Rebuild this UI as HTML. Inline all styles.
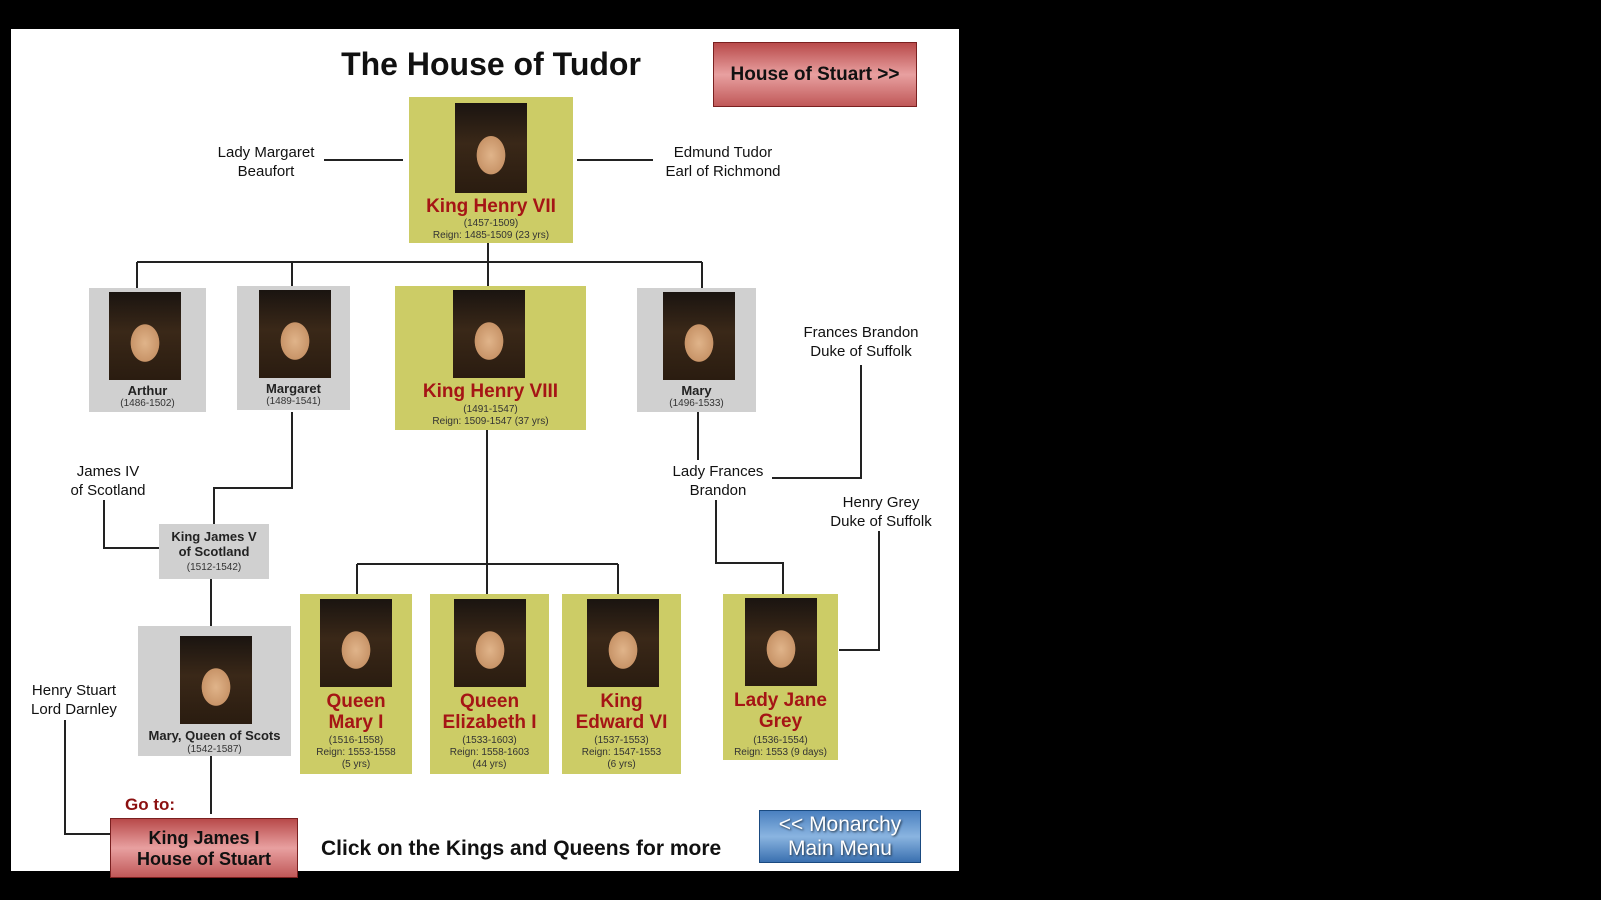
<!DOCTYPE html>
<html><head><meta charset="utf-8"><style>
body{margin:0;width:1601px;height:900px;background:#000;position:relative;overflow:hidden;font-family:"Liberation Sans",Arial,sans-serif}
.a{position:absolute}
.panel{left:11px;top:29px;width:948px;height:842px;background:#fff}
.box{position:absolute;text-align:center;color:#222}
.y{background:#cccc66}
.g{background:#d0d0d0}
.p{position:absolute;background:radial-gradient(ellipse 28% 30% at 50% 58%,#e0b48a 0%,#c89468 70%,transparent 72%),linear-gradient(#1a1410 0%,#3a2818 45%,#2a1c10 100%)}
.nm{position:absolute;left:0;right:0;color:#a51515;font-weight:bold;font-size:19px;line-height:21px}
.sm{position:absolute;left:0;right:0;font-size:10px;line-height:12px;color:#333}
.sb{font-weight:bold;font-size:13px;line-height:15px;color:#222}
.lbl{position:absolute;font-size:15px;line-height:19px;text-align:center;color:#111;transform:translateX(-50%);white-space:nowrap}
.btnr{position:absolute;background:linear-gradient(#b84a4a,#e8a0a0 50%,#c05858);border:1px solid #7a2020;text-align:center;font-weight:bold;color:#111}
</style></head><body>
<div class="a panel"></div>
<div class="a" style="left:0;width:982px;top:46px;text-align:center;font-size:32px;font-weight:bold;color:#111">The House of Tudor</div>
<div class="btnr" style="left:713px;top:42px;width:202px;height:63px;line-height:63px;font-size:19px">House of Stuart &gt;&gt;</div>

<svg class="a" style="left:0;top:0" width="1601" height="900">
<g stroke="#222" stroke-width="2" fill="none">
<path d="M324 160H403M577 160H653"/>
<path d="M488 243V280M137 262H702M137 262V288M292 262V286M488 262V286M702 262V288"/>
<path d="M861 365V478H772M698 412V460M716 500V563H783V594"/>
<path d="M879 531V650H839"/>
<path d="M487 430V594M357 564H618M357 564V594M618 564V594"/>
<path d="M292 412V488H214V524M104 500V548H159"/>
<path d="M211 579V626M211 756V814M65 720V834H110"/>
</g></svg>

<div class="lbl" style="left:266px;top:143px">Lady Margaret<br>Beaufort</div>
<div class="lbl" style="left:723px;top:143px">Edmund Tudor<br>Earl of Richmond</div>
<div class="lbl" style="left:861px;top:323px">Frances Brandon<br>Duke of Suffolk</div>
<div class="lbl" style="left:718px;top:462px">Lady Frances<br>Brandon</div>
<div class="lbl" style="left:881px;top:493px">Henry Grey<br>Duke of Suffolk</div>
<div class="lbl" style="left:108px;top:462px">James IV<br>of Scotland</div>
<div class="lbl" style="left:74px;top:681px">Henry Stuart<br>Lord Darnley</div>

<div class="box y" style="left:409px;top:97px;width:164px;height:146px">
<div class="p" style="left:46px;top:6px;width:72px;height:90px"></div>
<div class="nm" style="top:99px">King Henry VII</div>
<div class="sm" style="top:121px">(1457-1509)</div>
<div class="sm" style="top:133px">Reign: 1485-1509 (23 yrs)</div></div>

<div class="box g" style="left:89px;top:288px;width:117px;height:124px">
<div class="p" style="left:20px;top:4px;width:72px;height:88px"></div>
<div class="sm sb" style="top:95px">Arthur</div><div class="sm" style="top:110px">(1486-1502)</div></div>

<div class="box g" style="left:237px;top:286px;width:113px;height:124px">
<div class="p" style="left:22px;top:4px;width:72px;height:88px"></div>
<div class="sm sb" style="top:95px">Margaret</div><div class="sm" style="top:110px">(1489-1541)</div></div>

<div class="box y" style="left:395px;top:286px;width:191px;height:144px">
<div class="p" style="left:58px;top:4px;width:72px;height:88px"></div>
<div class="nm" style="top:95px">King Henry VIII</div>
<div class="sm" style="top:118px">(1491-1547)</div>
<div class="sm" style="top:130px">Reign: 1509-1547 (37 yrs)</div></div>

<div class="box g" style="left:637px;top:288px;width:119px;height:124px">
<div class="p" style="left:26px;top:4px;width:72px;height:88px"></div>
<div class="sm sb" style="top:95px">Mary</div><div class="sm" style="top:110px">(1496-1533)</div></div>

<div class="box g" style="left:159px;top:524px;width:110px;height:55px">
<div class="sm sb" style="top:5px">King James V<br>of Scotland</div><div class="sm" style="top:38px">(1512-1542)</div></div>

<div class="box g" style="left:138px;top:626px;width:153px;height:130px">
<div class="p" style="left:42px;top:10px;width:72px;height:88px"></div>
<div class="sm sb" style="top:102px">Mary, Queen of Scots</div><div class="sm" style="top:118px">(1542-1587)</div></div>

<div class="box y" style="left:300px;top:594px;width:112px;height:180px">
<div class="p" style="left:20px;top:5px;width:72px;height:88px"></div>
<div class="nm" style="top:97px">Queen<br>Mary I</div>
<div class="sm" style="top:141px">(1516-1558)<br>Reign: 1553-1558<br>(5 yrs)</div></div>

<div class="box y" style="left:430px;top:594px;width:119px;height:180px">
<div class="p" style="left:24px;top:5px;width:72px;height:88px"></div>
<div class="nm" style="top:97px">Queen<br>Elizabeth I</div>
<div class="sm" style="top:141px">(1533-1603)<br>Reign: 1558-1603<br>(44 yrs)</div></div>

<div class="box y" style="left:562px;top:594px;width:119px;height:180px">
<div class="p" style="left:25px;top:5px;width:72px;height:88px"></div>
<div class="nm" style="top:97px">King<br>Edward VI</div>
<div class="sm" style="top:141px">(1537-1553)<br>Reign: 1547-1553<br>(6 yrs)</div></div>

<div class="box y" style="left:723px;top:594px;width:115px;height:166px">
<div class="p" style="left:22px;top:4px;width:72px;height:88px"></div>
<div class="nm" style="top:96px">Lady Jane<br>Grey</div>
<div class="sm" style="top:141px">(1536-1554)<br>Reign: 1553 (9 days)</div></div>

<div class="a" style="left:125px;top:795px;font-size:17px;font-weight:bold;color:#8b1010">Go to:</div>
<div class="btnr" style="left:110px;top:818px;width:188px;height:60px;font-size:18px;line-height:21px;padding-top:9px;box-sizing:border-box">King James I<br>House of Stuart</div>
<div class="a" style="left:321px;top:837px;font-size:21px;font-weight:bold;color:#111">Click on the Kings and Queens for more</div>
<div class="a" style="left:759px;top:810px;width:162px;height:53px;background:linear-gradient(#4a80c0,#8ab4e0 50%,#3a70b0);border:1px solid #1a4a80;color:#fff;font-size:21px;line-height:24px;text-align:center;text-shadow:1px 1px 2px #234;padding-top:2px;box-sizing:border-box">&lt;&lt; Monarchy<br>Main Menu</div>
</body></html>
